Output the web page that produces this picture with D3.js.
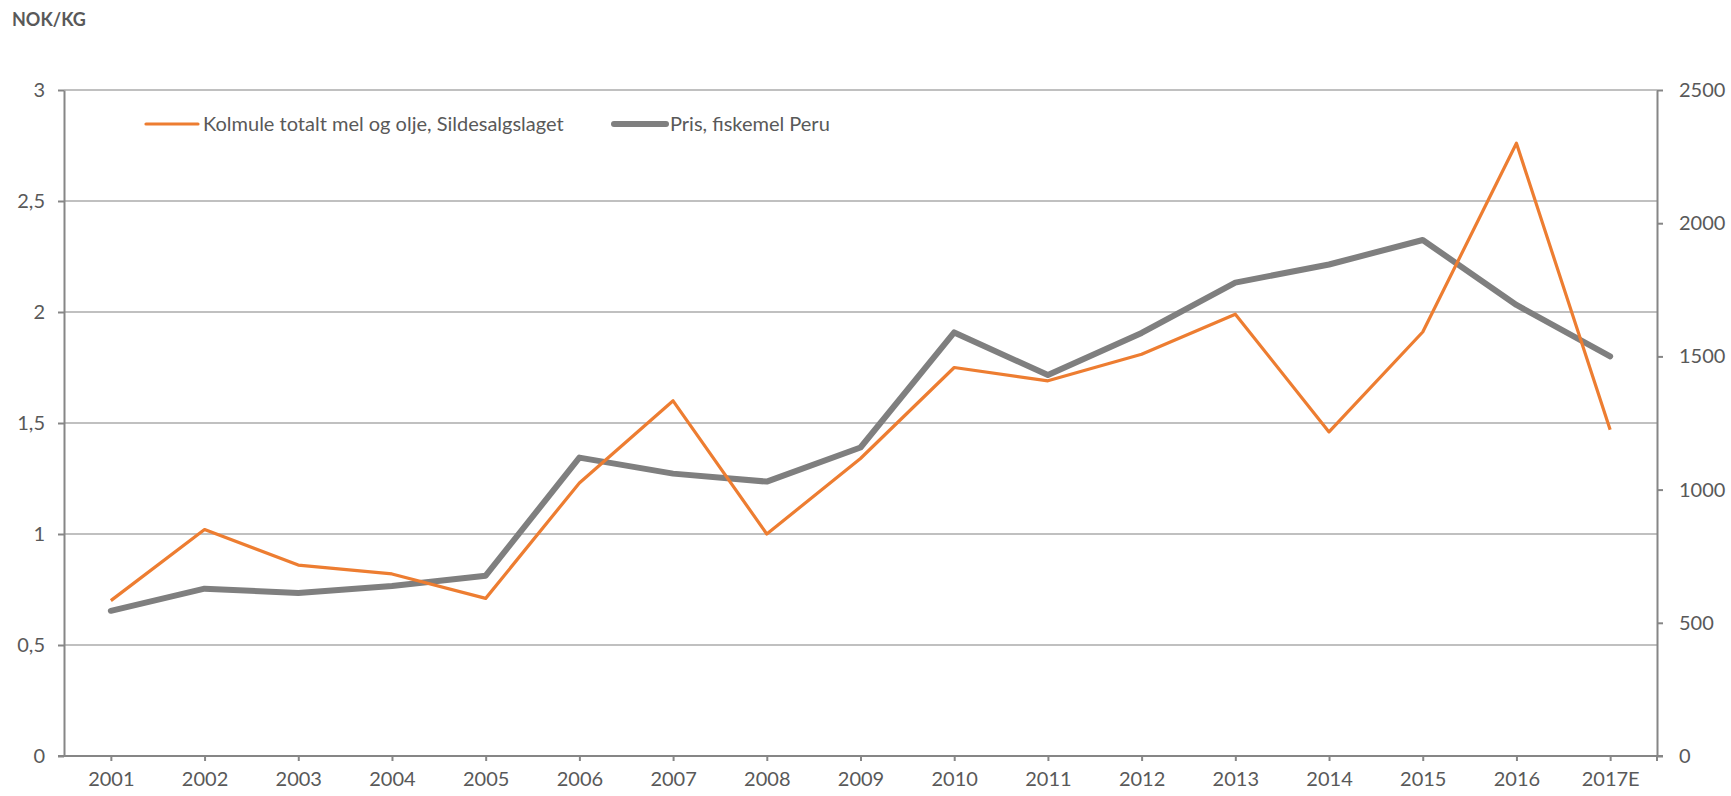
<!doctype html>
<html>
<head>
  <meta charset='utf-8'>
  <style>
    body { margin: 0; background: #fff; }
    svg text { font-family: Lato, 'Noto Sans', sans-serif; fill: #595959; }
    .axis path, .axis line { stroke: #868686; stroke-width: 2; }
    .grid line { stroke: #c0c0c0; stroke-width: 2; }
  </style>
</head>
<body>
  <svg width='1731' height='796'></svg>
  <script src='https://d3js.org/d3.v7.min.js'></script>
  <script>
    // years on the category axis
    var years = ['2001', '2002', '2003', '2004', '2005', '2006', '2007', '2008', '2009',
                 '2010', '2011', '2012', '2013', '2014', '2015', '2016', '2017E'];

    // NOK/KG, left axis
    var kolmule = [0.70, 1.02, 0.86, 0.82, 0.71, 1.23, 1.60, 1.00, 1.34,
                   1.75, 1.69, 1.81, 1.99, 1.46, 1.91, 2.76, 1.47];

    // right axis
    var peru = [545, 628, 612, 638, 677, 1120, 1060, 1030, 1158,
                1590, 1430, 1588, 1777, 1845, 1937, 1693, 1500];

    var leftTicks = [0, 0.5, 1, 1.5, 2, 2.5, 3];
    var rightTicks = [0, 500, 1000, 1500, 2000, 2500];
    var seriesNames = ['Kolmule totalt mel og olje, Sildesalgslaget', 'Pris, fiskemel Peru'];

    var svg = d3.select('svg');
    var plotL = 64, plotR = 1657, plotT = 90, plotB = 756;

    var x = d3.scalePoint().domain(years).range([plotL, plotR]).padding(0.5);
    var yL = d3.scaleLinear().domain([0, 3]).range([plotB, plotT]);
    var yR = d3.scaleLinear().domain([0, 2500]).range([plotB, plotT]);

    var fmt = function(d) { return String(d).replace('.', ','); };

    // gridlines
    svg.append('g').attr('class', 'grid')
       .selectAll('line')
       .data(leftTicks.slice(1))
       .enter().append('line')
       .attr('x1', plotL).attr('x2', plotR)
       .attr('y1', function(d) { return yL(d); })
       .attr('y2', function(d) { return yL(d); });

    // left axis
    var gl = svg.append('g').attr('class', 'axis')
      .attr('transform', 'translate(' + plotL + ',0)')
      .call(d3.axisLeft(yL).tickValues(leftTicks).tickFormat(fmt).tickSize(6).tickSizeOuter(0));
    gl.selectAll('text').attr('x', -19).style('font-size', '20px');

    // right axis
    var gr = svg.append('g').attr('class', 'axis')
      .attr('transform', 'translate(' + plotR + ',0)')
      .call(d3.axisRight(yR).tickValues(rightTicks).tickFormat(d3.format('d'))
              .tickSize(6).tickSizeOuter(0));
    gr.selectAll('text').attr('x', 22).style('font-size', '20px');

    // bottom axis
    var gb = svg.append('g').attr('class', 'axis')
      .attr('transform', 'translate(0,' + plotB + ')')
      .call(d3.axisBottom(x).tickSize(5).tickSizeOuter(0));
    gb.select('.domain').attr('d', 'M' + (plotL - 6) + ',0H' + (plotR + 6));
    gb.selectAll('text').attr('y', 16).style('font-size', '20px');
    gb.append('line').attr('x1', plotR).attr('x2', plotR).attr('y1', 0).attr('y2', 5);

    // lines
    var lineL = d3.line()
      .x(function(d, i) { return x(years[i]); })
      .y(function(d) { return yL(d); });
    var lineR = d3.line()
      .x(function(d, i) { return x(years[i]); })
      .y(function(d) { return yR(d); });

    svg.append('path').datum(peru)
       .attr('d', lineR)
       .attr('fill', 'none')
       .attr('stroke', '#7f7f7f')
       .attr('stroke-width', 6)
       .attr('stroke-linejoin', 'round')
       .attr('stroke-linecap', 'round');

    svg.append('path').datum(kolmule)
       .attr('d', lineL)
       .attr('fill', 'none')
       .attr('stroke', '#ed7d31')
       .attr('stroke-width', 3.2)
       .attr('stroke-linejoin', 'round');

    // legend
    var legend = [
      { name: seriesNames[0], color: '#ed7d31', w: 3.2, x0: 146, x1: 198, tx: 203 },
      { name: seriesNames[1], color: '#7f7f7f', w: 6, x0: 614, x1: 666, tx: 670 }
    ];
    var lg = svg.append('g').selectAll('g').data(legend).enter().append('g');
    lg.append('line')
      .attr('x1', function(d) { return d.x0; })
      .attr('x2', function(d) { return d.x1; })
      .attr('y1', 124).attr('y2', 124)
      .attr('stroke', function(d) { return d.color; })
      .attr('stroke-width', function(d) { return d.w; })
      .attr('stroke-linecap', 'round');
    lg.append('text')
      .attr('x', function(d) { return d.tx; })
      .attr('y', 124)
      .attr('dy', '0.35em')
      .style('font-size', '20px')
      .text(function(d) { return d.name; });

    // unit title
    svg.append('text')
       .attr('x', 12).attr('y', 20).attr('dy', '0.35em')
       .style('font-size', '18px')
       .style('font-weight', 'bold')
       .text('NOK/KG');
  </script>
</body>
</html>
